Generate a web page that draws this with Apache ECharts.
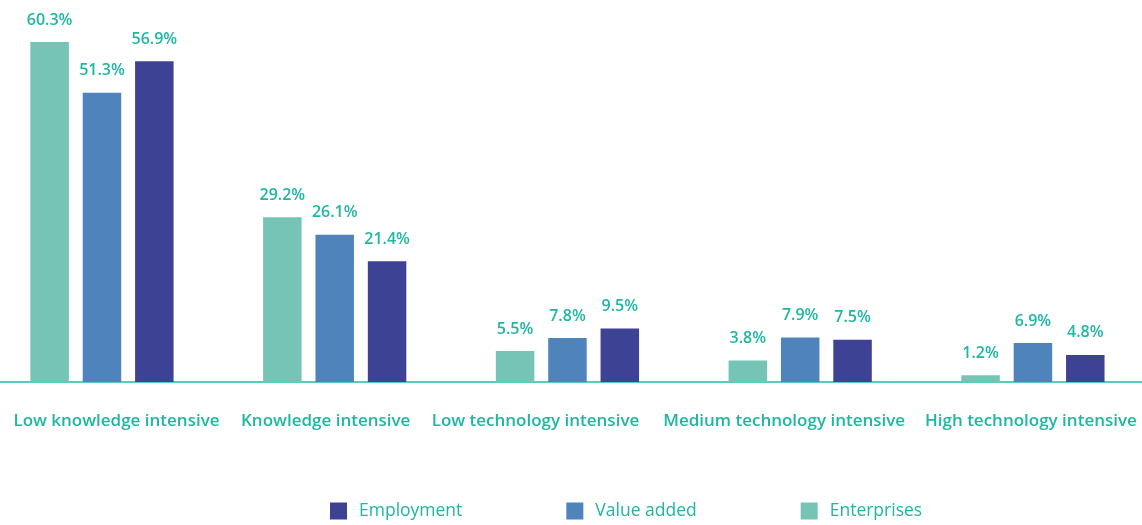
<!DOCTYPE html>
<html>
<head>
<meta charset="utf-8">
<script src="https://cdn.jsdelivr.net/npm/echarts@6/dist/echarts.min.js"></script>
<style>
  html, body { margin: 0; padding: 0; background: #fff; }
  #chart { width: 1142px; height: 525px; }
</style>
</head>
<body>
<div id="chart"></div>
<script>
var categories = ['Low knowledge intensive', 'Knowledge intensive', 'Low technology intensive', 'Medium technology intensive', 'High technology intensive'];
var enterprises = [60.3, 29.2, 5.5, 3.8, 1.2];
var valueAdded = [51.3, 26.1, 7.8, 7.9, 6.9];
var employment = [56.9, 21.4, 9.5, 7.5, 4.8];
// the labels in the source sit in an evenly spaced row, not centred on the groups
var labelPadding = [[0, 0, 0, 29], [0, 18, 0, 0], [0, 64, 0, 0], [0, 32, 0, 0], [0, 4, 0, 0]];

var teal = '#1db7a2';
var font = 'Open Sans';

function barSeries(name, data, color) {
  return {
    name: name,
    type: 'bar',
    data: data,
    barWidth: 38.5,
    barGap: '36%',
    itemStyle: { color: color },
    label: {
      show: true,
      position: 'top',
      distance: 14,
      formatter: '{c}%',
      color: teal,
      fontFamily: font,
      fontWeight: 600,
      fontSize: 16
    }
  };
}

var chart = echarts.init(document.getElementById('chart'));
chart.setOption({
  animation: false,
  legend: {
    data: ['Employment', 'Value added', 'Enterprises'],
    bottom: 0,
    left: 325,
    icon: 'rect',
    itemWidth: 17,
    itemHeight: 17,
    itemGap: 104,
    textStyle: { color: teal, fontFamily: font, fontSize: 17.5, padding: [0, 0, 0, 7] }
  },
  grid: { left: -14.4, right: -7.3, top: 15.5, bottom: 143, outerBoundsMode: 'none' },
  xAxis: {
    type: 'category',
    data: categories.map(function (c, i) {
      return { value: c, textStyle: { padding: labelPadding[i] } };
    }),
    axisLine: { lineStyle: { color: '#1fbcaa', width: 1.5 } },
    axisTick: { show: false },
    axisLabel: {
      color: teal,
      fontFamily: font,
      fontWeight: 600,
      fontSize: 17,
      margin: 31,
      interval: 0
    }
  },
  yAxis: {
    type: 'value',
    min: 0,
    max: 65,
    show: false,
    splitLine: { show: false }
  },
  series: [
    barSeries('Enterprises', enterprises, '#76c4b6'),
    barSeries('Value added', valueAdded, '#4e83bb'),
    barSeries('Employment', employment, '#3e4294')
  ]
});
</script>
</body>
</html>
